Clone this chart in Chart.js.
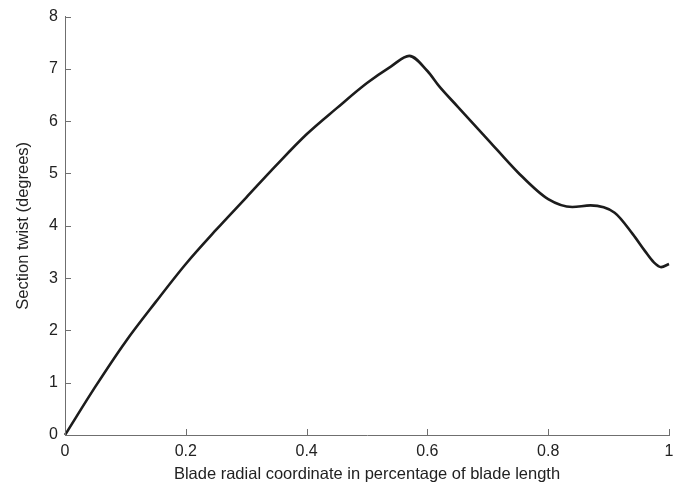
<!DOCTYPE html>
<html lang="en">
<head>
    <meta charset="UTF-8">
    <title>Section twist along blade</title>
    <script src="https://cdn.jsdelivr.net/npm/chart.js"></script>
    <style>
        html, body { margin: 0; padding: 0; background: #fff; }
        #wrap { width: 685px; height: 487px; }
    </style>
</head>
<body>
    <div id="wrap"><canvas id="myChart"></canvas></div>

    <script>
        // values
        const radialPos = [0, 0.05, 0.1, 0.15, 0.2, 0.25, 0.3, 0.35, 0.4, 0.45, 0.5, 0.54, 0.57,
                           0.6, 0.62, 0.65, 0.7, 0.75, 0.8, 0.84, 0.87, 0.91, 0.94, 0.96, 0.975, 0.987, 1.0];
        const twistDeg  = [0, 0.92, 1.78, 2.54, 3.27, 3.92, 4.54, 5.16, 5.75, 6.25, 6.73, 7.05, 7.25,
                           6.96, 6.66, 6.28, 5.65, 5.02, 4.51, 4.36, 4.39, 4.25, 3.84, 3.52, 3.30, 3.21, 3.27];
        const xTicks = [0, 0.2, 0.4, 0.6, 0.8, 1];
        const yTicks = [0, 1, 2, 3, 4, 5, 6, 7, 8];

        const axisColor = '#6f6f6f';
        const family = '"Liberation Sans", Arial, Helvetica, sans-serif';
        const tickFont = { family: family, size: 16 };
        const titleFont = { family: family, size: 16.5 };

        // matlab-style inward tick marks
        const inwardTicks = {
            id: 'inwardTicks',
            afterDraw(chart) {
                const { ctx, chartArea, scales } = chart;
                ctx.save();
                ctx.strokeStyle = axisColor;
                ctx.lineWidth = 1;
                ctx.beginPath();
                xTicks.forEach(v => {
                    const px = Math.round(scales.x.getPixelForValue(v)) + 0.5;
                    ctx.moveTo(px, chartArea.bottom);
                    ctx.lineTo(px, chartArea.bottom - 6);
                });
                yTicks.forEach(v => {
                    const py = Math.round(scales.y.getPixelForValue(v)) + 0.5;
                    ctx.moveTo(chartArea.left, py);
                    ctx.lineTo(chartArea.left + 6, py);
                });
                ctx.stroke();
                ctx.restore();
            }
        };

        const ctx = document.getElementById('myChart').getContext('2d');
        new Chart(ctx, {
            type: 'line',
            data: {
                datasets: [{
                    data: radialPos.map((x, i) => ({ x: x, y: twistDeg[i] })),
                    borderColor: '#1c1c1c',
                    borderWidth: 2.6,
                    pointRadius: 0,
                    cubicInterpolationMode: 'monotone',
                    fill: false,
                    clip: false
                }]
            },
            options: {
                responsive: true,
                maintainAspectRatio: false,
                animation: false,
                layout: { padding: { top: 13, right: 16, left: 0, bottom: 0 } },
                plugins: { legend: { display: false }, tooltip: { enabled: false } },
                scales: {
                    x: {
                        type: 'linear',
                        min: 0, max: 1,
                        afterBuildTicks: s => { s.ticks = xTicks.map(v => ({ value: v })); },
                        afterFit: s => { s.height = 52; },
                        grid: { display: false, tickLength: 0 },
                        border: { display: true, color: axisColor, width: 1 },
                        ticks: { color: '#222', font: tickFont, padding: 7, maxRotation: 0,
                                 callback: v => String(v) },
                        title: { display: true, text: 'Blade radial coordinate in percentage of blade length',
                                 color: '#222', font: titleFont, padding: { top: 0, bottom: 3 } }
                    },
                    y: {
                        min: 0, max: 8,
                        afterBuildTicks: s => { s.ticks = yTicks.map(v => ({ value: v })); },
                        afterFit: s => { s.width = 65; },
                        grid: { display: false, tickLength: 0 },
                        border: { display: true, color: axisColor, width: 1 },
                        ticks: { color: '#222', font: tickFont, padding: 7 },
                        title: { display: true, text: 'Section twist (degrees)',
                                 color: '#222', font: titleFont, padding: { top: 13.5, bottom: 0 } }
                    }
                }
            },
            plugins: [inwardTicks]
        });
    </script>
</body>
</html>
